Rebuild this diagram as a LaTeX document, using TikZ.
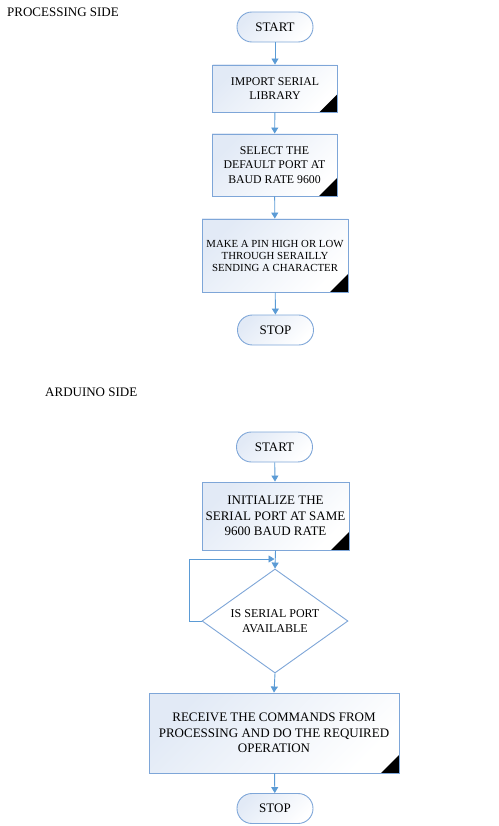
\documentclass[tikz,border=0pt]{standalone}
\usepackage{fontspec}
\setmainfont{Liberation Serif}
\usetikzlibrary{shapes.geometric,arrows.meta}

\definecolor{boxline}{RGB}{126,166,216}
\definecolor{flowline}{RGB}{91,155,213}
\definecolor{boxfill}{RGB}{226,234,246}

\tikzset{
  flow/.style={draw=flowline, line width=0.9pt, -{Triangle[length=6pt,width=7pt]}},
  termbox/.style={draw=boxline, line width=0.9pt, rectangle, rounded corners=14.9pt,
    top color=boxfill, bottom color=white, shading angle=45,
    minimum width=76pt, minimum height=30pt, inner sep=0pt,
    font=\fontsize{13}{15}\selectfont},
  procbox/.style={draw=boxline, line width=0.9pt, rectangle,
    top color=boxfill, bottom color=white, shading angle=45,
    inner sep=0pt, align=center, font=\fontsize{11.8}{14.5}\selectfont,
    path picture={\fill[black] (path picture bounding box.south east)
      -- ++(-18,0) -- ++(18,-18) -- cycle;}},
  testbox/.style={draw=boxline, line width=0.9pt, diamond, aspect=1.4,
    fill=white, inner sep=0pt, align=center, font=\fontsize{12}{14.5}\selectfont},
  sidelabel/.style={anchor=west, inner sep=0pt, font=\fontsize{13}{15}\selectfont}
}

\begin{document}
\begin{tikzpicture}[x=1pt,y=-1pt]
\useasboundingbox (0,0) rectangle (498,826);

% processing side
\node[sidelabel] (proctitle) at (7,12) {PROCESSING SIDE};
\node[termbox] (pstart) at (275,27) {START};
\node[procbox, minimum width=125pt, minimum height=47pt] (pimport) at (275,88.5) {IMPORT SERIAL\\LIBRARY};
\node[procbox, minimum width=125pt, minimum height=62pt] (pselect) at (274.5,165) {SELECT THE\\DEFAULT PORT AT\\BAUD RATE 9600};
\node[procbox, minimum width=146pt, minimum height=73pt, font=\fontsize{10.8}{12}\selectfont] (ppin) at (275,255.5) {MAKE A PIN HIGH OR LOW\\THROUGH SERAILLY\\SENDING A CHARACTER};
\node[termbox] (pstop) at (275.5,330) {STOP};

\draw[flow] (pstart) -- (pimport);
\draw[flow] (pimport) -- (pselect);
\draw[flow] (pselect) -- (ppin);
\draw[flow] (ppin) -- (pstop);

% arduino side
\node[sidelabel] (ardtitle) at (45,392) {ARDUINO SIDE};
\node[termbox] (astart) at (274.5,447) {START};
\node[procbox, minimum width=147pt, minimum height=68pt, font=\fontsize{13}{15.3}\selectfont] (ainit) at (275.5,516) {INITIALIZE THE\\SERIAL PORT AT SAME\\9600 BAUD RATE};
\node[testbox, minimum width=146pt, minimum height=104pt] (acheck) at (275,621) {IS SERIAL PORT\\AVAILABLE};
\node[procbox, minimum width=250pt, minimum height=80pt, font=\fontsize{13}{15.3}\selectfont] (arecv) at (274,733) {RECEIVE THE COMMANDS FROM\\PROCESSING AND DO THE REQUIRED\\OPERATION};
\node[termbox] (astop) at (275,808.5) {STOP};
\coordinate (aloop) at (274.5,559);

\draw[flow] (astart) -- (ainit);
\draw[flow] (ainit.south) -- (acheck.north);
\draw[flow] (acheck.west) -- ++(-12,0) |- (aloop);
\draw[flow] (acheck.south) -- (arecv.north);
\draw[flow] (arecv) -- (astop);
\end{tikzpicture}
\end{document}
